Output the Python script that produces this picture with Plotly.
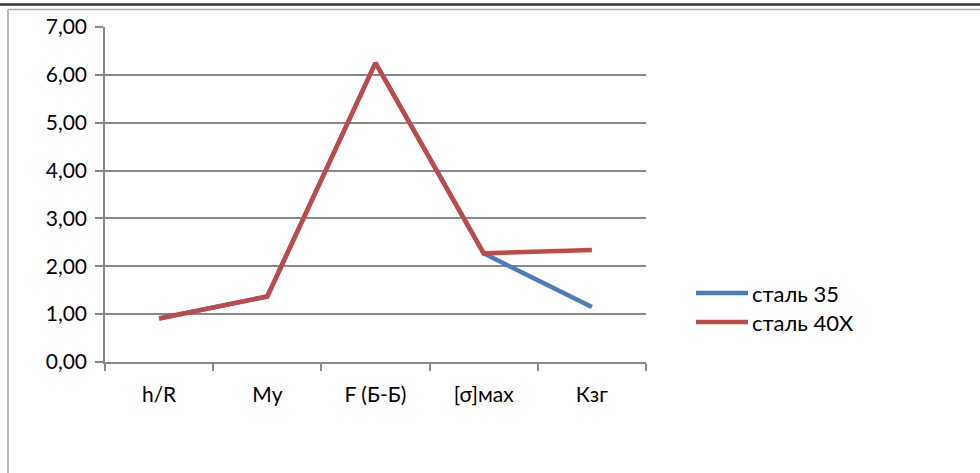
import plotly.graph_objects as go

categories = ["h/R", "Mу", "F (Б-Б)", "[σ]мах", "Кзг"]
steel_35 = [0.91, 1.37, 6.25, 2.27, 1.15]
steel_40x = [0.91, 1.37, 6.25, 2.27, 2.34]
series_names = ["сталь 35", "сталь 40Х"]
series_colors = ["#4a7ebb", "#be4b48"]
y_ticks = [0, 1, 2, 3, 4, 5, 6, 7]

W, H = 980, 473
L, R, T, B = 105, 646, 27, 362

def px_x(x):
    return (x - L) / (R - L)

def px_y(y):
    return (B - y) / (B - T)

fig = go.Figure()
for name, vals, col in zip(series_names, [steel_35, steel_40x], series_colors):
    fig.add_trace(go.Scatter(x=categories, y=vals, name=name, mode="lines",
                             line=dict(color=col, width=4.5), showlegend=False))

font = "Lato, 'Open Sans', sans-serif"
grid = "#888888"

fig.update_layout(
    width=W, height=H,
    margin=dict(l=L, r=W - R, t=T, b=H - B),
    paper_bgcolor="white", plot_bgcolor="white",
    separators=", ",
    font=dict(family=font, size=21, color="#000000"),
    xaxis=dict(type="category", tickson="boundaries", range=[-0.5, 4.5],
               ticks="outside", ticklen=7,
               tickcolor=grid, tickwidth=1.5, showline=True, linecolor=grid, linewidth=1.5,
               showgrid=False, tickfont=dict(size=21), ticklabelstandoff=13),
    yaxis=dict(range=[0, 7], tickvals=y_ticks, tickformat=".2f", ticks="outside",
               ticklen=8, tickcolor=grid, tickwidth=1.5, showline=True, linecolor=grid,
               linewidth=1.5, showgrid=True, gridcolor=grid, gridwidth=1.5,
               zeroline=False, tickfont=dict(size=21), ticklabelstandoff=4),
)

# legend drawn as line samples with text labels
for i, (name, col) in enumerate(zip(series_names, series_colors)):
    ly = 293 + i * 29
    fig.add_shape(type="line", xref="paper", yref="paper",
                  x0=px_x(696), x1=px_x(748), y0=px_y(ly), y1=px_y(ly),
                  line=dict(color=col, width=4.5))
    fig.add_annotation(xref="paper", yref="paper", x=px_x(750), y=px_y(ly),
                       xanchor="left", yanchor="middle", showarrow=False,
                       text=name, font=dict(size=22, family=font))

# chart-area frame and the dark rule above it
fig.add_shape(type="line", xref="paper", yref="paper",
              x0=px_x(8), x1=px_x(8), y0=px_y(480), y1=px_y(9.5),
              line=dict(color="#a6a6a6", width=1.5))
fig.add_shape(type="line", xref="paper", yref="paper",
              x0=px_x(8), x1=px_x(990), y0=px_y(9.5), y1=px_y(9.5),
              line=dict(color="#a6a6a6", width=1.5))
fig.add_shape(type="line", xref="paper", yref="paper",
              x0=px_x(-5), x1=px_x(990), y0=px_y(4.5), y1=px_y(4.5),
              line=dict(color="#333333", width=2.5))

fig.write_html("out.html")
